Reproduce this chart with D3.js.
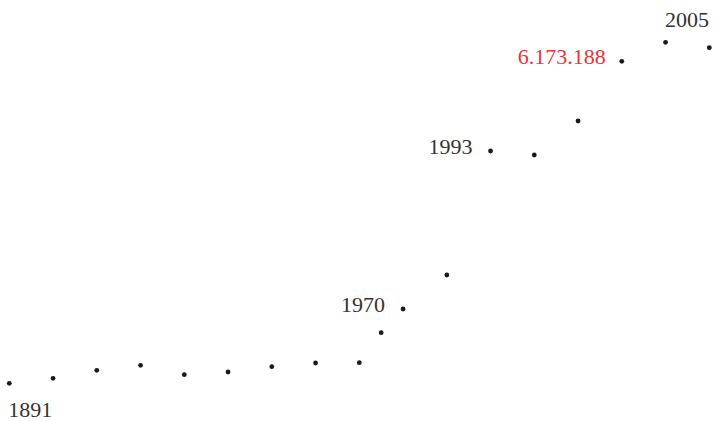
<!DOCTYPE html>
<html>
<head>
<meta charset="utf-8">
<script src="https://cdn.jsdelivr.net/npm/d3@7"></script>
<style>
  html, body { margin: 0; padding: 0; background: #fff; }
  svg { display: block; }
</style>
</head>
<body>
<div id="chart"></div>
<script>
// position of each point along the horizontal axis (one extra half step)
const steps = [0, 1, 2, 3, 4, 5, 6, 7, 8, 8.5, 9, 10, 11, 12, 13, 14, 15, 16];
// population values
const values = [2953000, 3003000, 3083000, 3133000, 3039000, 3066000, 3119000, 3156000, 3159000,
    3459000, 3696000, 4036000, 5276000, 5236000, 5576000, 6173188, 6363000, 6309000];
// annotated points: index into the data and the text shown
const labelIndex = [0, 10, 12, 16];
const labelText = ["1891", "1970", "1993", "2005"];
const highlightIndex = 15;

const width = 714, height = 421;

const data = steps.map((s, i) => ({ step: s, value: values[i] }));

const svg = d3.select("#chart").append("svg")
    .attr("width", width)
    .attr("height", height);

const x = d3.scaleLinear().domain([0, 16]).range([9.3, 709.3]);
const y = d3.scaleLinear().domain([2900000, 6500000]).range([388.6, 28.6]);

// Dots
svg.selectAll(".dot")
    .data(data)
    .enter()
    .append("circle")
    .attr("class", "dot")
    .attr("cx", d => x(d.step))
    .attr("cy", d => y(d.value))
    .attr("r", 2.4)
    .attr("fill", "#1a1a1a");

const font = "'Liberation Serif', 'Times New Roman', serif";

// Year labels
const labels = labelIndex.map((idx, i) => ({ d: data[idx], text: labelText[i], k: i }));
svg.selectAll(".label")
    .data(labels)
    .enter()
    .append("text")
    .attr("class", "label")
    .attr("x", l => {
        if (l.k === 0) return x(l.d.step) - 1;
        if (l.k === 3) return x(l.d.step) - 0.5;
        return x(l.d.step) - 18;
    })
    .attr("y", l => {
        if (l.k === 0) return y(l.d.value) + 34;
        if (l.k === 3) return y(l.d.value) - 15.5;
        return y(l.d.value) + 2.5;
    })
    .attr("text-anchor", l => (l.k === 0 || l.k === 3) ? "start" : "end")
    .style("font-family", font)
    .style("font-size", "22px")
    .style("fill", "#333")
    .text(l => l.text);

// Highlighted value
const hi = data[highlightIndex];
svg.append("text")
    .attr("x", x(hi.step) - 16)
    .attr("y", y(hi.value) + 2.7)
    .attr("text-anchor", "end")
    .style("font-family", font)
    .style("font-size", "22px")
    .style("fill", "#e8333c")
    .text(d3.format(",")(hi.value).replace(/,/g, "."));
</script>
</body>
</html>
